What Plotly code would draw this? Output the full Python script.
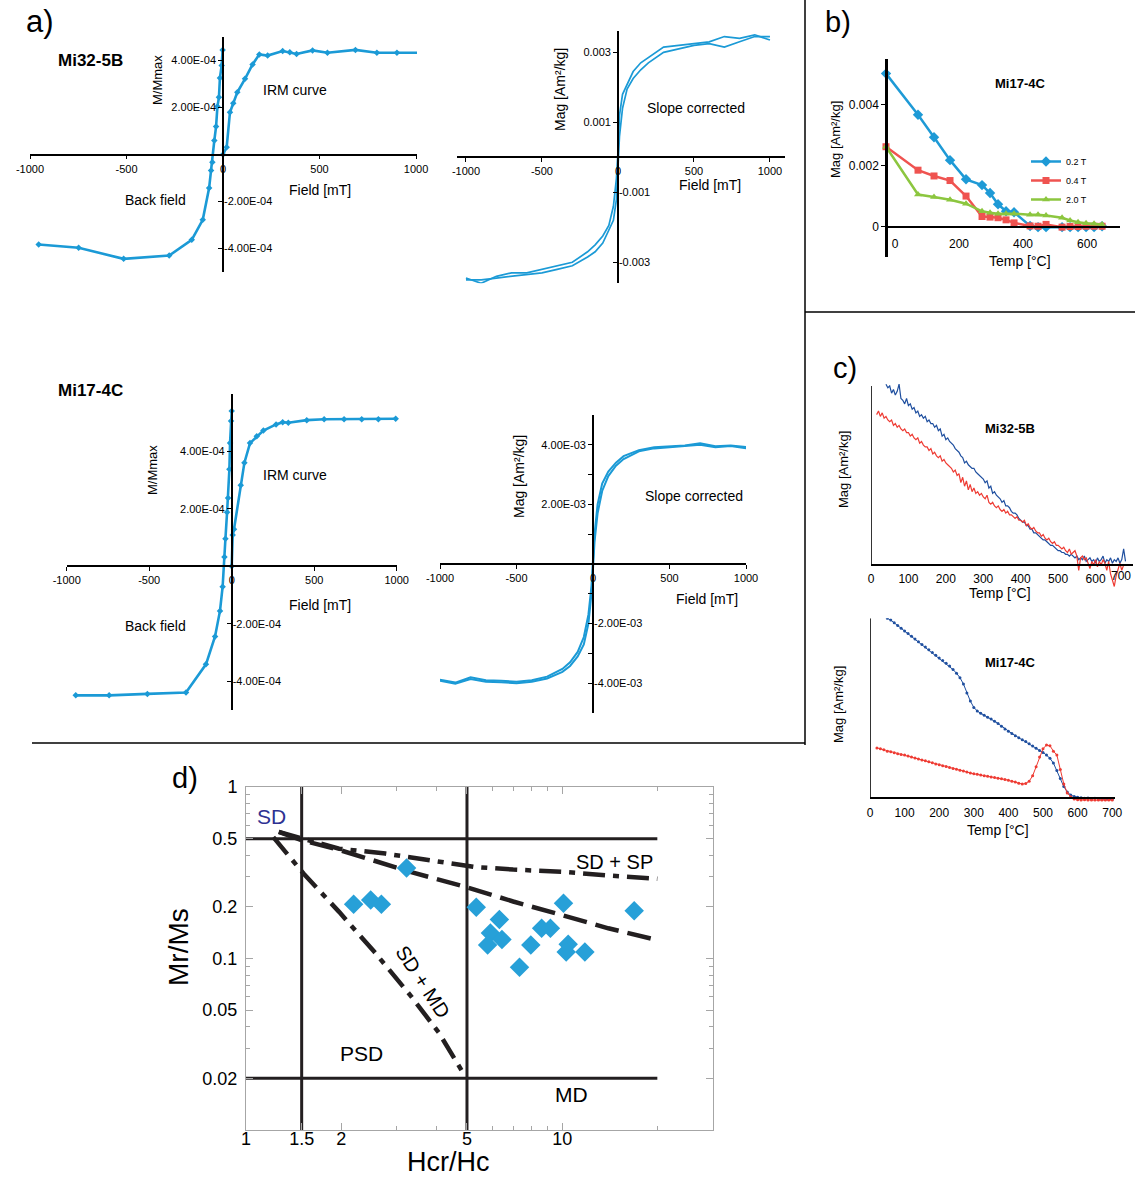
import math
import plotly.graph_objects as go

W, H = 1135, 1182
FONT = "Arial, 'Liberation Sans', Helvetica, sans-serif"
BLUE = "#1b9ad6"
NAVY = "#1f4f9f"
RED = "#ee3b33"
GREEN = "#8cc63f"
INK = "#231f20"

# ---------------- a) IRM acquisition + back field ----------------
mi32_irm_field = [0, 19, 36, 53, 74, 114, 153, 188, 231, 309, 346, 381, 464, 541, 686, 797, 901, 1010]
mi32_irm_m = [0.0, 0.31e-4, 1.8e-4, 2.18e-4, 2.65e-4, 3.22e-4, 3.83e-4, 4.26e-4, 4.21e-4,
              4.4e-4, 4.35e-4, 4.28e-4, 4.43e-4, 4.33e-4, 4.45e-4, 4.33e-4, 4.33e-4, 4.33e-4]
mi32_bf_field = [-2, -7, -16, -21, -29, -36, -45, -55, -62, -72, -105, -162, -279, -515, -748, -955]
mi32_bf_m = [4.45e-4, 3.79e-4, 3.26e-4, 2.44e-4, 2.04e-4, 1.19e-4, 0.6e-4, -0.33e-4, -0.68e-4,
             -1.43e-4, -2.78e-4, -3.63e-4, -4.3e-4, -4.44e-4, -3.97e-4, -3.83e-4]

mi17_irm_field = [0, 6, 14, 55, 77, 111, 152, 192, 269, 309, 343, 455, 560, 681, 788, 889, 994]
mi17_irm_m = [0.0, 1.09e-4, 1.29e-4, 2.82e-4, 3.61e-4, 4.29e-4, 4.53e-4, 4.73e-4, 4.94e-4,
              5.02e-4, 5.0e-4, 5.09e-4, 5.12e-4, 5.12e-4, 5.12e-4, 5.12e-4, 5.14e-4]
mi17_bf_field = [0, -4, -10, -14, -22, -28, -38, -44, -55, -71, -101, -156, -277, -511, -743, -945]
mi17_bf_m = [5.41e-4, 5.06e-4, 4.29e-4, 3.38e-4, 2.38e-4, 1.88e-4, 0.96e-4, 0.33e-4, -0.71e-4,
             -1.55e-4, -2.44e-4, -3.41e-4, -4.39e-4, -4.44e-4, -4.49e-4, -4.49e-4]

# ---------------- a) slope-corrected hysteresis loops ----------------
loop_field = [-1000, -900, -800, -700, -600, -500, -400, -300, -200, -150, -100, -60, -30, -10, 0,
              10, 30, 60, 100, 150, 200, 300, 400, 500, 600, 700, 800, 900, 1000]
mi32_loop_upper = [-0.00345, -0.0036, -0.0034, -0.0033, -0.0033, -0.0032, -0.0031, -0.0030, -0.0027,
                   -0.0025, -0.00225, -0.00195, -0.0014, -0.0006, 0.00015, 0.0012, 0.0018, 0.0021,
                   0.00245, 0.0027, 0.00285, 0.00315, 0.0032, 0.00325, 0.0033, 0.00345, 0.0034,
                   0.0035, 0.00335]
mi32_loop_lower = [-0.0035, -0.0035, -0.00345, -0.0034, -0.00335, -0.0033, -0.0032, -0.0031, -0.00285,
                   -0.0027, -0.00245, -0.0021, -0.0018, -0.0012, -0.00015, 0.0006, 0.0014, 0.00195,
                   0.00225, 0.0025, 0.0027, 0.0030, 0.0031, 0.0032, 0.00325, 0.00315, 0.0033,
                   0.00345, 0.00345]
mi17_loop_upper = [-0.00388, -0.00398, -0.0038, -0.0039, -0.00392, -0.00395, -0.0039, -0.00378, -0.00352,
                   -0.0033, -0.00295, -0.00245, -0.0017, -0.00075, 0.00015, 0.001, 0.002, 0.0027,
                   0.0031, 0.0034, 0.00362, 0.00382, 0.00392, 0.00395, 0.00398, 0.00405, 0.00395,
                   0.00398, 0.00393]
mi17_loop_lower = [-0.00392, -0.00402, -0.00386, -0.00395, -0.00397, -0.004, -0.00395, -0.00384, -0.00362,
                   -0.00342, -0.0031, -0.0027, -0.002, -0.001, -0.00015, 0.00075, 0.0017, 0.00245,
                   0.00295, 0.0033, 0.00352, 0.00378, 0.00388, 0.00392, 0.00395, 0.004, 0.00392,
                   0.00396, 0.00388]

# ---------------- b) thermal demagnetisation of 3-axis IRM ----------------
b_temp = [0, 100, 150, 200, 250, 300, 325, 350, 375, 400, 450, 475, 500, 550, 575, 600, 625, 650, 675]
b_mag_02T = [0.00502, 0.00367, 0.00293, 0.00218, 0.00155, 0.00136, 0.0011, 0.00073, 0.0005, 0.00047,
             0.00002, -0.00002, -0.00002, -0.00002, -0.00002, -0.00002, -0.00002, -0.00002, 0.00001]
b_mag_04T = [0.00262, 0.00185, 0.00166, 0.00151, 0.001, 0.00033, 0.00031, 0.00029, 0.00022, 0.00012,
             0.00002, 0.00001, 0.00007, -0.00002, 0.0, 0.0, 0.00001, 0.00001, 0.00001]
b_mag_2T = [0.00262, 0.00105, 0.00097, 0.00088, 0.00075, 0.0005, 0.00045, 0.00042, 0.00042, 0.00042,
            0.00039, 0.00039, 0.00036, 0.00029, 0.0002, 0.00014, 0.00011, 0.00009, 0.00007]

# ---------------- c) thermomagnetic curves (relative units) ----------------
c1_heat_temp = [40, 45, 50, 55, 60, 65, 70, 75, 80, 85,
                90, 95, 100, 105, 110, 115, 120, 125, 130, 135,
                140, 145, 150, 155, 160, 165, 170, 175, 180, 185,
                190, 195, 200, 205, 210, 215, 220, 225, 230, 235,
                240, 245, 250, 255, 260, 265, 270, 275, 280, 285,
                290, 295, 300, 305, 310, 315, 320, 325, 330, 335,
                340, 345, 350, 355, 360, 365, 370, 375, 380, 385,
                390, 395, 400, 405, 410, 415, 420, 425, 430, 435,
                440, 445, 450, 455, 460, 465, 470, 475, 480, 485,
                490, 495, 500, 505, 510, 515, 520, 525, 530, 535,
                540, 545, 550, 555, 560, 565, 570, 575, 580, 585,
                590, 595, 600, 605, 610, 615, 620, 625, 630, 635,
                640, 645, 650, 655, 660, 665, 670, 675, 680]
c1_heat_mag = [1.01, 0.99, 1.00, 0.96, 0.98, 0.95, 0.97, 1.01, 0.93, 0.92,
               0.90, 0.93, 0.89, 0.90, 0.87, 0.88, 0.85, 0.86, 0.83, 0.84,
               0.82, 0.83, 0.80, 0.81, 0.79, 0.79, 0.77, 0.78, 0.75, 0.76,
               0.72, 0.73, 0.70, 0.71, 0.69, 0.68, 0.67, 0.65, 0.64, 0.63,
               0.61, 0.60, 0.57, 0.58, 0.56, 0.55, 0.54, 0.54, 0.52, 0.51,
               0.50, 0.49, 0.48, 0.46, 0.47, 0.43, 0.44, 0.40, 0.41, 0.39,
               0.38, 0.37, 0.35, 0.36, 0.33, 0.33, 0.32, 0.30, 0.29, 0.29,
               0.28, 0.26, 0.25, 0.24, 0.24, 0.22, 0.22, 0.20, 0.20, 0.18,
               0.18, 0.17, 0.16, 0.15, 0.14, 0.14, 0.13, 0.12, 0.11, 0.11,
               0.10, 0.09, 0.08, 0.08, 0.07, 0.07, 0.06, 0.06, 0.05, 0.06,
               0.05, 0.04, 0.05, 0.03, 0.04, 0.03, 0.05, 0.02, 0.03, 0.04,
               0.02, 0.03, 0.01, 0.04, 0.02, 0.03, 0.05, 0.01, 0.03, 0.02,
               0.04, 0.01, 0.03, 0.02, 0.04, 0.01, 0.03, 0.09, 0.02]
c1_cool_temp = [15, 20, 25, 30, 35, 40, 45, 50, 55, 60,
                65, 70, 75, 80, 85, 90, 95, 100, 105, 110,
                115, 120, 125, 130, 135, 140, 145, 150, 155, 160,
                165, 170, 175, 180, 185, 190, 195, 200, 205, 210,
                215, 220, 225, 230, 235, 240, 245, 250, 255, 260,
                265, 270, 275, 280, 285, 290, 295, 300, 305, 310,
                315, 320, 325, 330, 335, 340, 345, 350, 355, 360,
                365, 370, 375, 380, 385, 390, 395, 400, 405, 410,
                415, 420, 425, 430, 435, 440, 445, 450, 455, 460,
                465, 470, 475, 480, 485, 490, 495, 500, 505, 510,
                515, 520, 525, 530, 535, 540, 545, 550, 555, 560,
                565, 570, 575, 580, 585, 590, 595, 600, 605, 610,
                615, 620, 625, 630, 635, 640, 645, 650, 655, 660,
                665, 670, 675]
c1_cool_mag = [0.84, 0.86, 0.83, 0.85, 0.82, 0.83, 0.81, 0.80, 0.81, 0.78,
               0.79, 0.77, 0.78, 0.76, 0.75, 0.76, 0.74, 0.74, 0.72, 0.73,
               0.71, 0.70, 0.71, 0.68, 0.69, 0.67, 0.66, 0.66, 0.64, 0.65,
               0.62, 0.63, 0.61, 0.60, 0.61, 0.58, 0.59, 0.57, 0.56, 0.55,
               0.54, 0.52, 0.53, 0.50, 0.51, 0.46, 0.49, 0.44, 0.47, 0.42,
               0.45, 0.41, 0.43, 0.40, 0.41, 0.39, 0.40, 0.38, 0.37, 0.39,
               0.35, 0.34, 0.35, 0.33, 0.32, 0.33, 0.31, 0.30, 0.31, 0.29,
               0.30, 0.28, 0.28, 0.27, 0.26, 0.27, 0.25, 0.25, 0.24, 0.25,
               0.22, 0.23, 0.21, 0.20, 0.21, 0.19, 0.18, 0.18, 0.16, 0.17,
               0.15, 0.14, 0.15, 0.13, 0.12, 0.13, 0.11, 0.11, 0.10, 0.09,
               0.10, 0.08, 0.07, 0.09, 0.06, 0.07, 0.08, 0.05, -0.03, 0.04,
               0.05, 0.03, 0.04, 0.01, -0.02, 0.02, 0.00, 0.03, -0.01, 0.02,
               0.00, 0.03, 0.01, -0.03, 0.02, -0.05, -0.09, -0.12, -0.06, -0.02,
               0.01, -0.03, 0.00]

c2_heat_temp = [50, 60, 70, 80, 90, 100, 110, 120, 130, 140,
                150, 160, 170, 180, 190, 200, 210, 220, 230, 240,
                250, 260, 270, 280, 290, 300, 310, 320, 330, 340,
                350, 360, 370, 380, 390, 400, 410, 420, 430, 440,
                450, 460, 470, 480, 490, 500, 510, 520, 530, 540,
                550, 560, 570, 580, 590, 600, 610, 620, 630, 640,
                650, 660, 670, 680, 690, 700]
c2_heat_mag = [1.0, 0.99, 0.975, 0.96, 0.945, 0.93, 0.915, 0.9, 0.885, 0.87,
               0.855, 0.84, 0.825, 0.81, 0.795, 0.78, 0.765, 0.75, 0.735, 0.715,
               0.695, 0.67, 0.635, 0.585, 0.54, 0.505, 0.485, 0.472, 0.462, 0.45,
               0.44, 0.428, 0.415, 0.4, 0.385, 0.372, 0.36, 0.348, 0.337, 0.325,
               0.315, 0.303, 0.29, 0.278, 0.265, 0.255, 0.24, 0.222, 0.196, 0.155,
               0.11, 0.065, 0.035, 0.018, 0.01, 0.006, 0.003, 0.0, 0.002, -0.002,
               0.0, -0.003, -0.004, -0.005, -0.005, -0.006]
c2_cool_temp = [20, 30, 40, 50, 60, 70, 80, 90, 100, 110,
                120, 130, 140, 150, 160, 170, 180, 190, 200, 210,
                220, 230, 240, 250, 260, 270, 280, 290, 300, 310,
                320, 330, 340, 350, 360, 370, 380, 390, 400, 410,
                420, 430, 440, 450, 460, 470, 480, 490, 500, 510,
                520, 530, 540, 550, 560, 570, 580, 590, 600, 610,
                620, 630, 640, 650, 660, 670, 680, 690, 700]
c2_cool_mag = [0.28, 0.275, 0.27, 0.262, 0.258, 0.253, 0.248, 0.244, 0.24, 0.235,
               0.229, 0.224, 0.218, 0.213, 0.208, 0.203, 0.197, 0.191, 0.186, 0.181,
               0.176, 0.171, 0.166, 0.161, 0.156, 0.151, 0.146, 0.14, 0.136, 0.133,
               0.129, 0.125, 0.122, 0.119, 0.116, 0.112, 0.108, 0.105, 0.1, 0.095,
               0.09, 0.083, 0.079, 0.082, 0.095, 0.125, 0.175, 0.23, 0.275, 0.296,
               0.292, 0.262, 0.24, 0.16, 0.08, 0.03, 0.008, -0.004, -0.008, -0.009,
               -0.008, -0.01, -0.009, -0.01, -0.01, -0.009, -0.01, -0.01, -0.01]

# ---------------- d) Day plot ----------------
day_hcr_hc = [3.22, 2.19, 2.48, 2.68, 5.35, 6.33, 5.93, 6.45, 5.81, 7.33, 7.96, 8.61, 9.18,
              10.1, 10.45, 10.3, 11.8, 16.9]
day_mr_ms = [0.337, 0.207, 0.219, 0.207, 0.199, 0.169, 0.141, 0.129, 0.120, 0.089, 0.120, 0.150,
             0.150, 0.210, 0.121, 0.109, 0.109, 0.190]
domain_hcr_bounds = [1.5, 5]
domain_mr_bounds = [0.5, 0.02]
day_mr_span = [0.01, 1]
day_hcr_span = [1, 20]
sdsp_upper_x = [1.27, 1.5, 1.97, 2.76, 3.5, 5.27, 7.0, 10.1, 14, 20]
sdsp_upper_y = [0.547, 0.5, 0.437, 0.409, 0.385, 0.342, 0.33, 0.32, 0.305, 0.292]
sdsp_lower_x = [1.27, 1.5, 1.97, 3.31, 5.0, 7.0, 10.1, 14, 20]
sdsp_lower_y = [0.547, 0.49, 0.43, 0.32, 0.26, 0.215, 0.178, 0.15, 0.128]
sdmd_x = [1.22, 1.52, 1.97, 2.55, 3.31, 4.07, 4.94]
sdmd_y = [0.51, 0.313, 0.187, 0.109, 0.061, 0.037, 0.0205]

# ---------------- helpers ----------------
fig = go.Figure()
axes = {}
shapes = []
annotations = []


def xdom(p0, p1):
    return [p0 / W, p1 / W]


def ydom(top, bottom):
    return [1 - bottom / H, 1 - top / H]


def zero_x(box, r):
    return (box[0] + (0 - r[0]) / (r[1] - r[0]) * (box[1] - box[0])) / W


def zero_y(box, r):
    return 1 - (box[1] - (0 - r[0]) / (r[1] - r[0]) * (box[1] - box[0])) / H


def akey(letter, n):
    return f"{letter}axis" + ("" if n == 1 else str(n))


def aref(letter, n):
    return letter + ("" if n == 1 else str(n))


TICKFONT = dict(family=FONT, size=11, color="black")


def cross_axes(xi, yi, yo, xbox, ybox, xr, yr, xt, yp_v, yp_t, yn_v, yn_t, yminor=()):
    axes[akey("x", xi)] = dict(domain=xdom(*xbox), range=xr, anchor="free",
                               position=zero_y(ybox, yr), showline=True, linecolor="black",
                               linewidth=1.6, ticks="outside", ticklen=4, tickcolor="black",
                               tickvals=xt, ticktext=[str(v) for v in xt], tickfont=TICKFONT,
                               showgrid=False, zeroline=False)
    allv = list(yp_v) + list(yn_v) + list(yminor)
    axes[akey("y", yi)] = dict(domain=ydom(*ybox), range=yr, anchor="free",
                               position=zero_x(xbox, xr), side="left", showline=True,
                               linecolor="black", linewidth=1.6, ticks="outside", ticklen=4,
                               tickcolor="black", tickvals=allv,
                               ticktext=list(yp_t) + [""] * (len(allv) - len(yp_t)),
                               tickfont=TICKFONT, showgrid=False, zeroline=False)
    axes[akey("y", yo)] = dict(range=yr, anchor="free", position=zero_x(xbox, xr), side="right",
                               overlaying=aref("y", yi), showline=False, ticks="",
                               tickvals=list(yn_v), ticktext=list(yn_t), tickfont=TICKFONT,
                               showgrid=False, zeroline=False)
    fig.add_trace(go.Scatter(x=[], y=[], xaxis=aref("x", xi), yaxis=aref("y", yo),
                             showlegend=False, hoverinfo="skip"))


def ann(text, x, y, size=14, bold=False, angle=0, color="black", xanchor="center"):
    annotations.append(dict(text=f"<b>{text}</b>" if bold else text, x=x / W, y=1 - y / H,
                            xref="paper", yref="paper", showarrow=False, textangle=angle,
                            font=dict(family=FONT, size=size, color=color),
                            xanchor=xanchor, yanchor="middle"))


def line_marker(x, y, xa, ya, color=BLUE, width=2.6, size=6, symbol="diamond", name=None, legend=False):
    fig.add_trace(go.Scatter(x=x, y=y, xaxis=xa, yaxis=ya, mode="lines+markers",
                             line=dict(color=color, width=width),
                             marker=dict(color=color, size=size, symbol=symbol),
                             cliponaxis=False, showlegend=legend, name=name))


# ---------------- a1: Mi32-5B IRM ----------------
cross_axes(1, 1, 2, (30, 417), (37, 272), [-1000, 1005], [-5e-4, 5e-4],
           [-1000, -500, 0, 500, 1000],
           [2e-4, 4e-4], ["2.00E-04", "4.00E-04"], [-2e-4, -4e-4], ["-2.00E-04", "-4.00E-04"])
line_marker(mi32_irm_field, mi32_irm_m, "x", "y", size=5)
line_marker(mi32_bf_field, mi32_bf_m, "x", "y", size=5)

# ---------------- a2: Mi32-5B loop ----------------
cross_axes(2, 3, 4, (457, 785), (31.3, 283.3), [-1059, 1099], [-0.0036, 0.0036],
           [-1000, -500, 0, 500, 1000],
           [0.001, 0.003], ["0.001", "0.003"], [-0.001, -0.003], ["-0.001", "-0.003"])
for branch in (mi32_loop_upper, mi32_loop_lower):
    fig.add_trace(go.Scatter(x=loop_field, y=branch, xaxis="x2", yaxis="y3", mode="lines",
                             line=dict(color=BLUE, width=1.7), showlegend=False))

# ---------------- a3: Mi17-4C IRM ----------------
cross_axes(3, 5, 6, (66.7, 396.7), (394, 710), [-1000, 1000], [-5e-4, 6e-4],
           [-1000, -500, 0, 500, 1000],
           [2e-4, 4e-4], ["2.00E-04", "4.00E-04"], [-2e-4, -4e-4], ["-2.00E-04", "-4.00E-04"])
line_marker(mi17_irm_field, mi17_irm_m, "x3", "y5", size=5)
line_marker(mi17_bf_field, mi17_bf_m, "x3", "y5", size=5)

# ---------------- a4: Mi17-4C loop ----------------
cross_axes(4, 7, 8, (440, 746), (415, 713), [-1000, 1000], [-5e-3, 5e-3],
           [-1000, -500, 0, 500, 1000],
           [2e-3, 4e-3], ["2.00E-03", "4.00E-03"], [-2e-3, -4e-3], ["-2.00E-03", "-4.00E-03"],
           yminor=[1e-3, 3e-3, -1e-3, -3e-3])
for branch in (mi17_loop_upper, mi17_loop_lower):
    fig.add_trace(go.Scatter(x=loop_field, y=branch, xaxis="x4", yaxis="y7", mode="lines",
                             line=dict(color=BLUE, width=2.0), showlegend=False))

# ---------------- b ----------------
b_xbox, b_ybox = (886, 1120), (59, 257)
b_xr, b_yr = [0, 731], [-0.001, 0.0055]
TF12 = dict(family=FONT, size=12, color="black")
axes["xaxis5"] = dict(domain=xdom(*b_xbox), range=b_xr, anchor="free", position=zero_y(b_ybox, b_yr),
                      showline=True, linecolor="black", linewidth=2, ticks="", tickvals=[0, 200, 400, 600],
                      ticktext=["0", "200", "400", "600"], tickfont=TF12, ticklabelshift=9,
                      ticklabelstandoff=6, showgrid=False, zeroline=False)
axes["yaxis9"] = dict(domain=ydom(*b_ybox), range=b_yr, anchor="free", position=b_xbox[0] / W,
                      showline=True, linecolor="black", linewidth=2.5, ticks="outside", ticklen=4,
                      tickcolor="black", tickvals=[0, 0.002, 0.004], ticktext=["0", "0.002", "0.004"],
                      tickfont=TF12, showgrid=False, zeroline=False)
line_marker(b_temp, b_mag_02T, "x5", "y9", color="#1e9ad6", width=2.5, size=8, symbol="diamond",
            name="0.2 T", legend=True)
line_marker(b_temp, b_mag_04T, "x5", "y9", color="#ef5350", width=2.5, size=7, symbol="square",
            name="0.4 T", legend=True)
line_marker(b_temp, b_mag_2T, "x5", "y9", color=GREEN, width=2.5, size=7, symbol="triangle-up",
            name="2.0 T", legend=True)


# ---------------- c1 / c2 ----------------
C_TICKS = [0, 100, 200, 300, 400, 500, 600, 700]


def thermo_axes(xi, yi, xbox, ybox, xr, yr, tickvals):
    axes[akey("x", xi)] = dict(domain=xdom(*xbox), range=xr, anchor="free", position=zero_y(ybox, yr),
                               showline=True, linecolor="black", linewidth=1.6, ticks="",
                               tickvals=tickvals, ticktext=[str(v) for v in tickvals],
                               tickfont=TF12, ticklabelstandoff=3, showgrid=False, zeroline=False)
    axes[akey("y", yi)] = dict(domain=ydom(*ybox), range=yr, anchor="free", position=xbox[0] / W,
                               showline=False, ticks="", showticklabels=False, showgrid=False,
                               zeroline=False)
    shapes.append(dict(type="line", xref=aref("x", xi), yref=aref("y", yi), x0=0, x1=0, y0=0, y1=1,
                       line=dict(color="black", width=1.6)))


thermo_axes(6, 10, (871, 1133), (383.3, 587.4), [0, 700], [-0.125, 1.015], C_TICKS[:-1])
# last label is pulled inside the chart area, as in the original
annotations.append(dict(text=str(C_TICKS[-1]), x=C_TICKS[-1], y=0, xref="x6", yref="y10",
                        showarrow=False, xanchor="right", yanchor="top", yshift=-2,
                        font=TF12))
fig.add_trace(go.Scatter(x=c1_heat_temp, y=c1_heat_mag, xaxis="x6", yaxis="y10", mode="lines",
                         line=dict(color=NAVY, width=1.2), showlegend=False))
fig.add_trace(go.Scatter(x=c1_cool_temp, y=c1_cool_mag, xaxis="x6", yaxis="y10", mode="lines",
                         line=dict(color=RED, width=1.2), showlegend=False))

thermo_axes(7, 11, (870, 1115), (618.3, 801.9), [0, 708], [-0.02, 1.0], C_TICKS)
fig.add_trace(go.Scatter(x=c2_heat_temp, y=c2_heat_mag, xaxis="x7", yaxis="y11", mode="lines+markers",
                         line=dict(color=NAVY, width=1), marker=dict(color=NAVY, size=3),
                         showlegend=False))
fig.add_trace(go.Scatter(x=c2_cool_temp, y=c2_cool_mag, xaxis="x7", yaxis="y11", mode="lines+markers",
                         line=dict(color=RED, width=1), marker=dict(color=RED, size=3),
                         showlegend=False))

# ---------------- d: Day plot ----------------
GRAY = "#a6a6a6"
axes["xaxis8"] = dict(type="log", domain=xdom(246, 713), range=[0, math.log10(30)], anchor="y12",
                      showline=True, linecolor=GRAY, linewidth=1, mirror="allticks", ticks="inside",
                      ticklen=7, tickcolor=GRAY, tickvals=[1, 1.5, 2, 5, 10],
                      ticktext=["1", "1.5", "2", "5", "10"], ticklabelstandoff=-8,
                      tickfont=dict(family=FONT, size=18, color="black"),
                      minor=dict(tickmode="array", tickvals=[3, 4, 6, 7, 8, 9, 20], ticks="inside",
                                 ticklen=4, tickcolor=GRAY),
                      showgrid=False, zeroline=False)
axes["yaxis12"] = dict(type="log", domain=ydom(787, 1130), range=[-2, 0], anchor="x8",
                       showline=True, linecolor=GRAY, linewidth=1, mirror="allticks", ticks="inside",
                       ticklen=7, tickcolor=GRAY, tickvals=[0.02, 0.05, 0.1, 0.2, 0.5, 1],
                       ticktext=["0.02", "0.05", "0.1", "0.2", "0.5", "1"], ticklabelstandoff=4,
                       tickfont=dict(family=FONT, size=18, color="black"),
                       minor=dict(tickmode="array",
                                  tickvals=[0.03, 0.04, 0.06, 0.07, 0.08, 0.09, 0.3, 0.4, 0.6, 0.7, 0.8, 0.9],
                                  ticks="inside", ticklen=4, tickcolor=GRAY),
                       showgrid=False, zeroline=False)
for hb in domain_hcr_bounds:
    fig.add_trace(go.Scatter(x=[hb, hb], y=day_mr_span, xaxis="x8", yaxis="y12", mode="lines",
                             line=dict(color=INK, width=3), showlegend=False))
for mb in domain_mr_bounds:
    fig.add_trace(go.Scatter(x=day_hcr_span, y=[mb, mb], xaxis="x8", yaxis="y12", mode="lines",
                             line=dict(color=INK, width=3), showlegend=False))
fig.add_trace(go.Scatter(x=sdsp_upper_x, y=sdsp_upper_y, xaxis="x8", yaxis="y12", mode="lines",
                         line=dict(color=INK, width=4.5, dash="22px,8px,6px,8px"), showlegend=False))
fig.add_trace(go.Scatter(x=sdsp_lower_x, y=sdsp_lower_y, xaxis="x8", yaxis="y12", mode="lines",
                         line=dict(color=INK, width=4.5, dash="24px,9px"), showlegend=False))
fig.add_trace(go.Scatter(x=sdmd_x, y=sdmd_y, xaxis="x8", yaxis="y12", mode="lines",
                         line=dict(color=INK, width=4.5, dash="22px,8px,6px,8px"), showlegend=False))
fig.add_trace(go.Scatter(x=day_hcr_hc, y=day_mr_ms, xaxis="x8", yaxis="y12", mode="markers",
                         marker=dict(symbol="diamond", size=15, color="#27a0d8"), showlegend=False))

# ---------------- separators ----------------
for s in [dict(x0=805 / W, x1=805 / W, y0=1, y1=1 - 745 / H),
          dict(x0=805 / W, x1=1, y0=1 - 312 / H, y1=1 - 312 / H),
          dict(x0=32 / W, x1=805 / W, y0=1 - 743 / H, y1=1 - 743 / H)]:
    shapes.append(dict(type="line", xref="paper", yref="paper", line=dict(color="black", width=1.5), **s))

# ---------------- texts ----------------
ann("a)", 40, 22, size=31)
ann("Mi32-5B", 90, 60, size=17, bold=True)
ann("M/Mmax", 157, 80, size=13, angle=-90)
ann("IRM curve", 295, 90)
ann("Back field", 155, 200)
ann("Field [mT]", 320, 190)
ann("Mag [Am²/kg]", 560, 90, angle=-90)
ann("Slope corrected", 696, 108)
ann("Field [mT]", 710, 185)
ann("Mi17-4C", 90, 391, size=17, bold=True)
ann("M/Mmax", 152, 470, size=13, angle=-90)
ann("IRM curve", 295, 475)
ann("Back field", 155, 626)
ann("Field [mT]", 320, 605)
ann("Mag [Am²/kg]", 519, 477, angle=-90)
ann("Slope corrected", 694, 496)
ann("Field [mT]", 707, 599)

ann("b)", 838, 22, size=29)
ann("Mi17-4C", 1020, 84, size=13, bold=True)
ann("Mag [Am²/kg]", 836, 140, size=13, angle=-90)
ann("Temp [°C]", 1020, 261, size=14)

ann("c)", 845, 368, size=29)
ann("Mi32-5B", 1010, 429, size=13, bold=True)
ann("Mag [Am²/kg]", 843, 470, size=13, angle=-90)
ann("Temp [°C]", 1000, 593, size=14)
ann("Mi17-4C", 1010, 662, size=13, bold=True)
ann("Mag [Am²/kg]", 838, 705, size=13, angle=-90)
ann("Temp [°C]", 998, 830, size=14)

ann("d)", 185, 778, size=29)
ann("Mr/Ms", 178, 947, size=28, angle=-90)
ann("Hcr/Hc", 448, 1162, size=27)
ann("SD", 271, 816, size=21, color="#2e3192")
ann("SD + SP", 614, 862, size=20)
ann("SD + MD", 423, 982, size=20, angle=57)
ann("PSD", 361, 1053, size=21)
ann("MD", 571, 1094, size=21)

fig.update_layout(
    width=W, height=H, margin=dict(l=0, r=0, t=0, b=0, pad=0, autoexpand=False),
    paper_bgcolor="white", plot_bgcolor="rgba(0,0,0,0)",
    font=dict(family=FONT, color="black"),
    showlegend=True,
    legend=dict(x=1026 / W, y=1 - 147 / H, xanchor="left", yanchor="top",
                font=dict(family=FONT, size=9), bgcolor="rgba(0,0,0,0)",
                tracegroupgap=0, itemwidth=30),
    shapes=shapes, annotations=annotations, **axes,
)

fig.write_html("out.html", config={"displayModeBar": False},
               post_script="document.body.style.margin='0';document.body.style.padding='0';")
